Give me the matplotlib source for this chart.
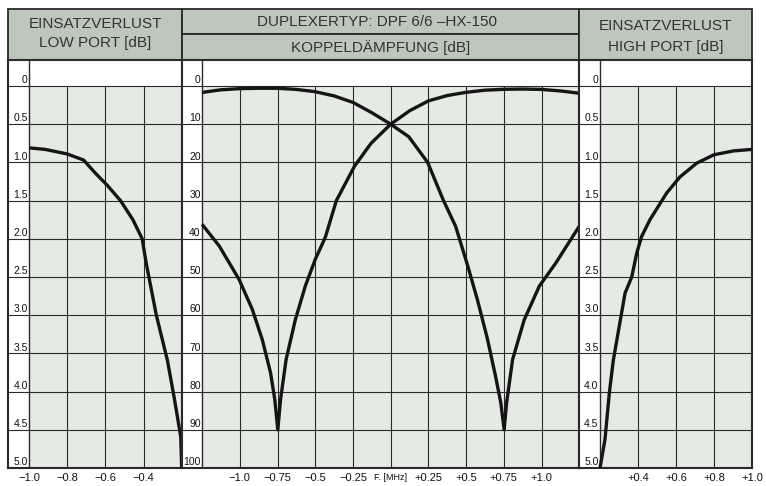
import matplotlib.pyplot as plt
from matplotlib.patches import Rectangle

# --- 1. DATEN ---
# Einsatzverlust Low Port: Frequenzablage [MHz] / Verlust [dB]
low_f = [-1.0, -0.916, -0.8, -0.714, -0.653, -0.59, -0.521, -0.456, -0.407,
         -0.398, -0.386, -0.333, -0.275, -0.24, -0.205, -0.2]
low_db = [0.81, 0.83, 0.89, 0.97, 1.14, 1.30, 1.5, 1.75, 2.0,
          2.14, 2.32, 3.0, 3.59, 4.07, 4.59, 5.0]

# Koppeldämpfung, Kurve 1 (Minimum bei +0.75 MHz)
kop1_f = [-1.25, -1.125, -1.0, -0.875, -0.75, -0.625, -0.5, -0.375, -0.25, -0.125,
          0.0, 0.12, 0.245, 0.35, 0.43, 0.51, 0.575, 0.64, 0.695, 0.73, 0.752,
          0.768, 0.808, 0.885, 0.985, 1.095, 1.25]
kop1_db = [1.7, 1.0, 0.7, 0.6, 0.6, 0.9, 1.5, 2.6, 4.3, 7.0,
           10.0, 13.3, 20.0, 30.0, 36.7, 47.0, 56.0, 66.0, 76.0, 83.0, 90.0,
           83.0, 71.6, 61.2, 52.4, 46.3, 36.7]

# Koppeldämpfung, Kurve 2 (Minimum bei -0.75 MHz)
kop2_f = [-1.25, -1.136, -1.004, -0.917, -0.851, -0.796, -0.768, -0.748,
          -0.73, -0.693, -0.632, -0.566, -0.5, -0.434, -0.36, -0.24, -0.13,
          0.0, 0.125, 0.25, 0.375, 0.5, 0.625, 0.75, 0.875, 1.0, 1.125, 1.25]
kop2_db = [36.2, 41.9, 50.7, 58.5, 66.4, 75.1, 82.1, 90.0,
           82.1, 71.6, 61.2, 52.4, 45.4, 39.7, 30.0, 21.0, 15.0,
           10.0, 6.5, 3.9, 2.5, 1.66, 1.1, 0.87, 0.8, 0.9, 1.3, 1.9]

# Einsatzverlust High Port
high_f = [0.2, 0.226, 0.249, 0.27, 0.332, 0.367, 0.393, 0.419, 0.463, 0.551,
          0.621, 0.709, 0.8, 0.902, 1.0]
high_db = [5.0, 4.63, 4.02, 3.59, 2.71, 2.5, 2.19, 1.97, 1.75, 1.40,
           1.19, 1.01, 0.90, 0.85, 0.83]

# Achsenbeschriftungen
ein_yticks = [0, 0.5, 1.0, 1.5, 2.0, 2.5, 3.0, 3.5, 4.0, 4.5, 5.0]
ein_ylabels = ['0', '0.5', '1.0', '1.5', '2.0', '2.5', '3.0', '3.5', '4.0', '4.5', '5.0']
kop_yticks = [0, 10, 20, 30, 40, 50, 60, 70, 80, 90, 100]
kop_ylabels = ['0', '10', '20', '30', '40', '50', '60', '70', '80', '90', '100']

low_xticks = [-1.0, -0.8, -0.6, -0.4]
low_xlabels = ['−1.0', '−0.8', '−0.6', '−0.4']
mid_xticks = [-1.0, -0.75, -0.5, -0.25, 0.0, 0.25, 0.5, 0.75, 1.0]
mid_xlabels = ['−1.0', '−0.75', '−0.5', '−0.25', 'F. [MHz]', '+0.25', '+0.5', '+0.75', '+1.0']
high_xticks = [0.4, 0.6, 0.8, 1.0]
high_xlabels = ['+0.4', '+0.6', '+0.8', '+1.0']

low_vgrid = [-0.8, -0.6, -0.4]
mid_vgrid = [-1.0, -0.75, -0.5, -0.25, 0.0, 0.25, 0.5, 0.75, 1.0]
high_vgrid = [0.4, 0.6, 0.8]

# --- 2. STIL ---
plt.rcParams['font.family'] = ['Liberation Sans', 'DejaVu Sans']
KOPF = '#bdc7bc'
FELD = '#e6eae5'
LINIE = '#2a2a2a'
TEXT = '#333333'
W, H = 766, 486

fig = plt.figure(figsize=(W / 100, H / 100), dpi=100)


def px_rect(x0, y0, x1, y1):
    return [x0 / W, 1 - y1 / H, (x1 - x0) / W, (y1 - y0) / H]


# Hintergrund-Achse in Pixelkoordinaten für die Kopfzeile
bg = fig.add_axes([0, 0, 1, 1])
bg.set_xlim(0, W)
bg.set_ylim(H, 0)
bg.axis('off')

for (x0, y0, x1, y1) in [(8, 9.5, 181.7, 60), (181.7, 9.5, 579.3, 34.3),
                         (181.7, 34.3, 579.3, 60), (579.3, 9.5, 752, 60)]:
    bg.add_patch(Rectangle((x0, y0), x1 - x0, y1 - y0, facecolor=KOPF,
                           edgecolor=LINIE, linewidth=1.3))

kw = dict(ha='center', va='center', fontsize=11, color=TEXT)
bg.text(95, 23.5, 'EINSATZVERLUST', **kw)
bg.text(95, 43.5, 'LOW PORT [dB]', **kw)
bg.text(377, 22, 'DUPLEXERTYP: DPF 6/6 –HX-150', **kw)
bg.text(381, 47.5, 'KOPPELDÄMPFUNG [dB]', **kw)
bg.text(665.7, 26.5, 'EINSATZVERLUST', **kw)
bg.text(665.7, 46.5, 'HIGH PORT [dB]', **kw)


def panel(rect, xlim, ylim, x0, vgrid, yticks, ylabels, xticks, xlabels, kurven):
    ax = fig.add_axes(px_rect(*rect))
    ax.set_xlim(xlim)
    ax.set_ylim(ylim)
    ymax = ylim[0]
    ax.set_facecolor('white')
    ax.add_patch(Rectangle((x0, 0), xlim[1] - x0, ymax, facecolor=FELD,
                           edgecolor='none', zorder=0))
    # Raster
    for v in yticks[:-1]:
        ax.axhline(v, color=LINIE, linewidth=0.8, zorder=1)
    ax.vlines(vgrid, 0, ymax, color=LINIE, linewidth=0.8, zorder=1)
    ax.axvline(x0, color=LINIE, linewidth=1.0, zorder=1)
    # Skala links im weissen Streifen
    for v, lab in zip(yticks, ylabels):
        ax.annotate(lab, xy=(x0, v), xytext=(-1.0, 0.6), textcoords='offset points',
                    ha='right', va='bottom', fontsize=7.5, color='#111111')
    for f, db in kurven:
        ax.plot(f, db, color='#151515', linewidth=2.4, solid_joinstyle='round',
                solid_capstyle='butt', zorder=3)
    ax.set_yticks([])
    ax.set_xticks(xticks, xlabels)
    ax.tick_params(axis='x', length=0, pad=3.5, labelsize=8, labelcolor='#111111')
    for s in ax.spines.values():
        s.set_color(LINIE)
        s.set_linewidth(1.5)
    return ax


panel((8, 60, 181.7, 468), (-1.1105, -0.2), (5.0, -0.34), -1.0, low_vgrid,
      ein_yticks, ein_ylabels, low_xticks, low_xlabels, [(low_f, low_db)])

ax_mid = panel((181.7, 60, 579.3, 468), (-1.385, 1.25), (100, -6.8), -1.25, mid_vgrid,
               kop_yticks, kop_ylabels, mid_xticks, mid_xlabels,
               [(kop1_f, kop1_db), (kop2_f, kop2_db)])
for lab in ax_mid.get_xticklabels():
    if lab.get_text().startswith('F.'):
        lab.set_fontsize(6.5)

panel((579.3, 60, 752, 468), (0.091, 1.0), (5.0, -0.34), 0.2, high_vgrid,
      ein_yticks, ein_ylabels, high_xticks, high_xlabels, [(high_f, high_db)])

fig.savefig('out.png', dpi=100)
